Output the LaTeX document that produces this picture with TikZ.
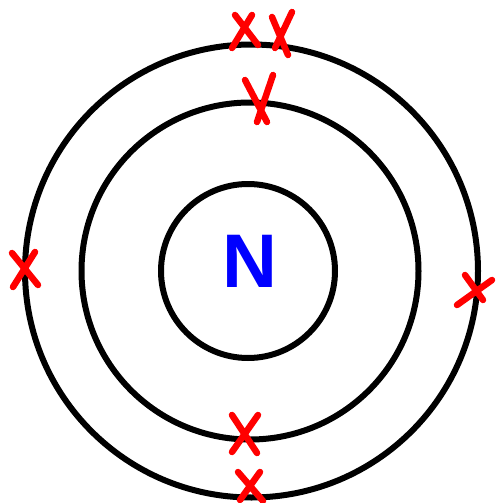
\documentclass[tikz,border=0pt]{standalone}
\usepackage{fontspec}
\setmainfont{Liberation Sans}
\begin{document}
\begin{tikzpicture}[x=1pt,y=-1pt,
  ring/.style={draw=black,line width=6pt},
  xmark/.style={draw=red,line width=6.5pt,line cap=round}]
\useasboundingbox (0,0) rectangle (495,503);
\draw[ring] (248,271) circle (87);
\draw[ring] (250,271) circle (168.5);
\draw[ring] (251.5,271) circle (226.5);
\node (n) at (249.5,261) {\fontsize{76}{76}\selectfont\bfseries\color{blue}N};
% top outer crosses
\draw[xmark] (235,15) -- (258,45) (252,15) -- (232,48);
\draw[xmark] (292,12) -- (275,48) (272,17) -- (288,55);
% middle top
\draw[xmark] (273,75) -- (257,122) (245,80) -- (267,122);
% left outer
\draw[xmark] (35,252) -- (13,287) (12,253) -- (38,285);
% right outer
\draw[xmark] (465,275) -- (483,300) (492,280) -- (457,305);
% middle bottom
\draw[xmark] (232,415) -- (257,453) (258,415) -- (232,452);
% outer bottom
\draw[xmark] (238,472) -- (263,501) (260,472) -- (240,500);
\end{tikzpicture}
\end{document}
